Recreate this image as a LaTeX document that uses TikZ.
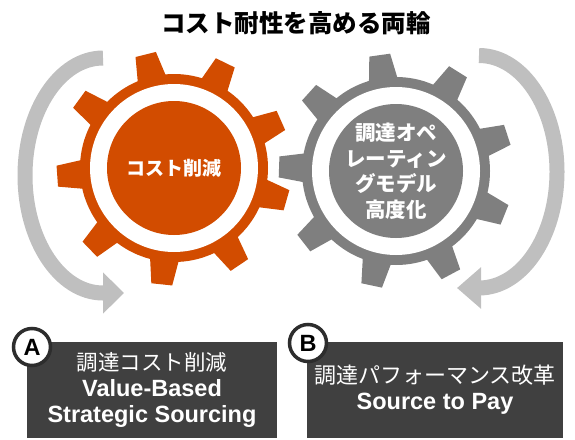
\documentclass[tikz,border=0pt]{standalone}
\usepackage{fontspec}
\setmainfont{Liberation Sans}
\newfontfamily\jpfont{Noto Sans CJK JP}
\usetikzlibrary{arrows.meta}
\definecolor{costorange}{RGB}{210,76,0}
\definecolor{opsgray}{RGB}{127,127,127}
\definecolor{cyclegray}{RGB}{191,191,191}
\definecolor{panelgray}{RGB}{64,64,64}
\definecolor{badgering}{RGB}{45,45,45}
\begin{document}
\begin{tikzpicture}[x=1pt,y=1pt,
  cyclearrow/.style={draw=cyclegray,line width=15pt,-{Triangle[length=#1,width=40pt]}},
  cyclearrow/.default=21pt,
  gearlabel/.style={text=white,align=center,inner sep=0pt,font=\jpfont\bfseries\fontsize{19}{24}\selectfont},
  panel/.style={fill=panelgray,text=white,align=center,minimum height=96pt,inner sep=0pt,font=\bfseries\fontsize{23.5}{26}\selectfont},
  badge/.style={circle,draw=badgering,line width=3.5pt,fill=white,minimum size=37pt,inner sep=0pt,font=\bfseries\fontsize{23.5}{24}\selectfont}]
\useasboundingbox (0,0) rectangle (575,-439);
\coordinate (gl) at (174,-168);
\coordinate (gr) at (396,-171);
\coordinate (la) at (103,-58);
\coordinate (ra) at (479,-55.5);

% title
\node[font=\jpfont\bfseries\fontsize{24.5}{28}\selectfont] (title) at (296,-23) {コスト耐性を高める両輪};

% gears
\foreach \c/\col/\off in {gr/opsgray/98,gl/costorange/104} {
  \foreach \k in {0,...,8}
    \fill[\col,shift={(\c)},rotate=\off+40*\k] (88,-15) -- (117,-10.5) -- (117,10.5) -- (88,15) -- cycle;
  \fill[\col] (\c) circle (94);
  \fill[white] (\c) circle (84);
  \fill[\col] (\c) circle (67);
}
\node[gearlabel] (cut) at (gl) {コスト削減};
\node[gearlabel,font=\jpfont\bfseries\fontsize{20.5}{25.5}\selectfont] (ops) at (gr) {調達オペ\\レーティン\\グモデル\\高度化};

% turning arrows
\draw[cyclearrow] (la) arc[start angle=90,end angle=270,x radius=78,y radius=117.5] -- ++(21,0);
\draw[cyclearrow=24pt] (ra) arc[start angle=90,end angle=-90,x radius=78,y radius=116.25] -- ++(-22,0);

% panels
\node[panel,minimum width=250pt] (boxA) at (152,-390) {{\jpfont\mdseries\fontsize{21.5}{26}\selectfont 調達コスト削減}\\Value-Based\\Strategic Sourcing};
\node[panel,minimum width=256pt] (boxB) at (435,-390) {{\jpfont\mdseries\fontsize{22}{26}\selectfont 調達パフォーマンス改革}\\Source to Pay};
\node[badge] (tagA) at (32,-347) {A};
\node[badge] (tagB) at (308,-343) {B};
\end{tikzpicture}
\end{document}
